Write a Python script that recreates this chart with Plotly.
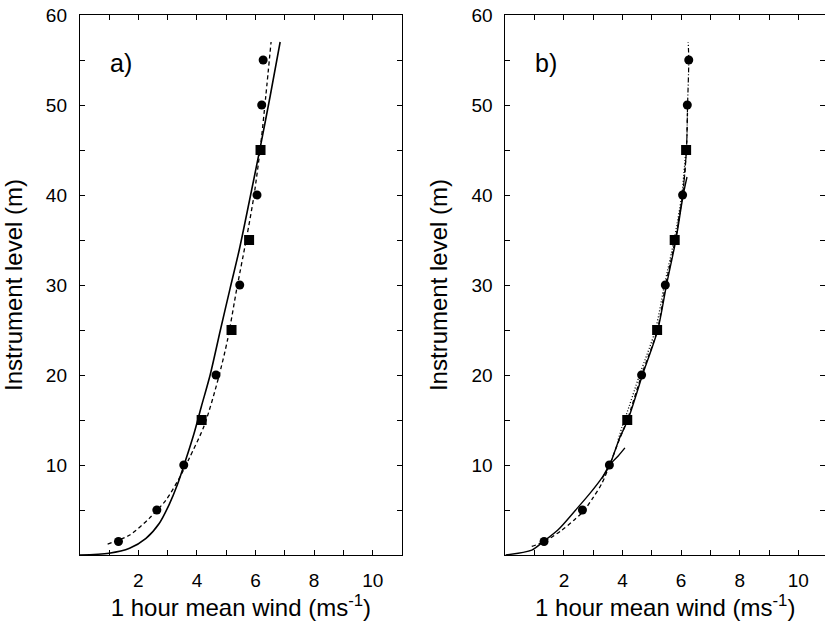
import plotly.graph_objects as go

# ---------------- data ----------------
circle_heights = [1.5, 5, 10, 20, 30, 40, 50, 55]
circle_wind = [1.32, 2.63, 3.55, 4.65, 5.46, 6.05, 6.21, 6.26]
square_heights = [15, 25, 35, 45]
square_wind = [4.16, 5.18, 5.78, 6.17]

# panel a) model curves
a_solid_wind = [0.0, 1.0, 1.7, 2.26, 2.71, 3.05, 3.33, 3.62, 3.9, 4.15, 4.45, 4.8, 5.13, 5.45, 5.8, 6.13, 6.5, 6.84]
a_solid_z = [0.0, 0.2, 0.75, 1.85, 3.5, 5.6, 7.8, 10.6, 13.5, 16.5, 20, 25, 29.6, 34, 39.5, 44.8, 51, 57]
a_dash_wind = [0.95, 1.69, 2.37, 2.94, 3.39, 3.73, 4.25, 4.72, 5.05, 5.36, 5.68, 5.95, 6.18, 6.35, 6.53]
a_dash_z = [1.22, 2.2, 4.07, 6.1, 8.5, 10.7, 14.4, 19.5, 24, 29.6, 35, 40, 45.7, 51, 57]

# panel b) model curves
b_solid1_wind = [0.0, 0.9, 1.3, 1.8, 2.4, 2.9, 3.3, 3.56, 3.85, 4.08]
b_solid1_z = [0.0, 0.55, 1.5, 2.8, 5.0, 6.9, 8.6, 10, 11, 11.9]
b_solid2_wind = [3.3, 3.56, 3.9, 4.18, 4.68, 5.2, 5.5, 5.82, 6.07, 6.2]
b_solid2_z = [8.5, 10, 13, 15, 20, 25, 30, 35, 40, 42]
b_dash_wind = [0.9, 1.33, 1.9, 2.35, 2.65, 3.0, 3.3, 3.56, 3.85, 4.16, 4.65, 5.19, 5.47, 5.8, 6.05, 6.18, 6.22]
b_dash_z = [0.95, 1.5, 2.7, 3.9, 4.8, 6.4, 8.0, 10, 12.5, 15, 20, 25, 30, 35, 40, 45, 50]
b_dot_wind = [3.85, 3.98, 4.12, 4.58, 5.12, 5.43, 5.76, 6.02, 6.16]
b_dot_z = [12.8, 14.2, 15.5, 20, 25, 30, 35, 40, 45]
b_dashdot_wind = [5.9, 6.05, 6.18, 6.22, 6.26, 6.24]
b_dashdot_z = [37, 40, 45, 50, 55, 57]

x_tickvals = list(range(0, 12))
x_ticktext = ["", "", "2", "", "4", "", "6", "", "8", "", "10", ""]
y_tickvals = list(range(0, 61, 5))
y_ticktext = ["", "", "10", "", "20", "", "30", "", "40", "", "50", "", "60"]

panel_labels = ["a)", "b)"]

FONT = "Liberation Sans, Arial, Helvetica, sans-serif"
W, H = 825, 626

fig = go.Figure()

def line(xs, ys, ax, dash, width=1.5):
    fig.add_trace(go.Scatter(x=xs, y=ys, mode="lines", xaxis=ax[0], yaxis=ax[1],
                             line=dict(color="black", width=width, dash=dash, shape="spline", smoothing=0.8),
                             showlegend=False, hoverinfo="skip"))

def points(ax):
    fig.add_trace(go.Scatter(x=circle_wind, y=circle_heights, mode="markers", xaxis=ax[0], yaxis=ax[1],
                             marker=dict(symbol="circle", size=9, color="black"), showlegend=False))
    fig.add_trace(go.Scatter(x=square_wind, y=square_heights, mode="markers", xaxis=ax[0], yaxis=ax[1],
                             marker=dict(symbol="square", size=10, color="black"), showlegend=False))

A = ("x", "y")
B = ("x2", "y2")
line(a_solid_wind, a_solid_z, A, "solid", 1.6)
line(a_dash_wind, a_dash_z, A, "4px,3px", 1.3)
points(A)

line(b_solid1_wind, b_solid1_z, B, "solid", 1.4)
line(b_solid2_wind, b_solid2_z, B, "solid", 1.4)
line(b_dash_wind, b_dash_z, B, "4px,3px", 1.3)
line(b_dot_wind, b_dot_z, B, "1px,2px", 1.3)
line(b_dashdot_wind, b_dashdot_z, B, "5px,2px,1px,2px", 1.2)
points(B)

ydom = [1 - 555 / H, 1 - 15 / H]
xdom_a = [79.8 / W, 402.0 / W]
xdom_b = [505.4 / W, 1.0]

common_x = dict(range=[0, 11], tickmode="array", tickvals=x_tickvals, ticktext=x_ticktext,
                ticks="inside", ticklen=5, tickwidth=1, tickcolor="black",
                showline=True, linecolor="black", linewidth=1, mirror="ticks",
                showgrid=False, zeroline=False, ticklabelstandoff=8, automargin=False,
                tickfont=dict(family=FONT, size=19, color="black"),
                title=dict(text="1 hour mean wind (ms<sup>-1</sup>)",
                           font=dict(family=FONT, size=24, color="black"), standoff=6))
common_y = dict(range=[0, 60], tickmode="array", tickvals=y_tickvals, ticktext=y_ticktext,
                ticks="inside", ticklen=5, tickwidth=1, tickcolor="black",
                showline=True, linecolor="black", linewidth=1, mirror="ticks",
                showgrid=False, zeroline=False, ticklabelstandoff=8, domain=ydom, automargin=False,
                tickfont=dict(family=FONT, size=19, color="black"),
                title=dict(text="Instrument level (m)",
                           font=dict(family=FONT, size=24, color="black"), standoff=17))

fig.update_layout(
    width=W, height=H, margin=dict(l=0, r=0, t=0, b=0, autoexpand=False),
    paper_bgcolor="white", plot_bgcolor="white", showlegend=False,
    xaxis=dict(common_x, domain=xdom_a, anchor="y"),
    yaxis=dict(common_y, anchor="x"),
    xaxis2=dict(common_x, domain=xdom_b, anchor="y2", range=[0, (825 - 505.4) / 29.29]),
    yaxis2=dict(common_y, anchor="x2"),
    annotations=[
        dict(text=panel_labels[0], x=1.41, y=54.7, xref="x", yref="y", showarrow=False,
             font=dict(family=FONT, size=25, color="black")),
        dict(text=panel_labels[1], x=1.39, y=54.7, xref="x2", yref="y2", showarrow=False,
             font=dict(family=FONT, size=25, color="black")),
    ],
)

fig.write_html("out.html",
               config={"displayModeBar": False},
               post_script="document.body.style.margin='0';document.body.style.overflow='hidden';")
